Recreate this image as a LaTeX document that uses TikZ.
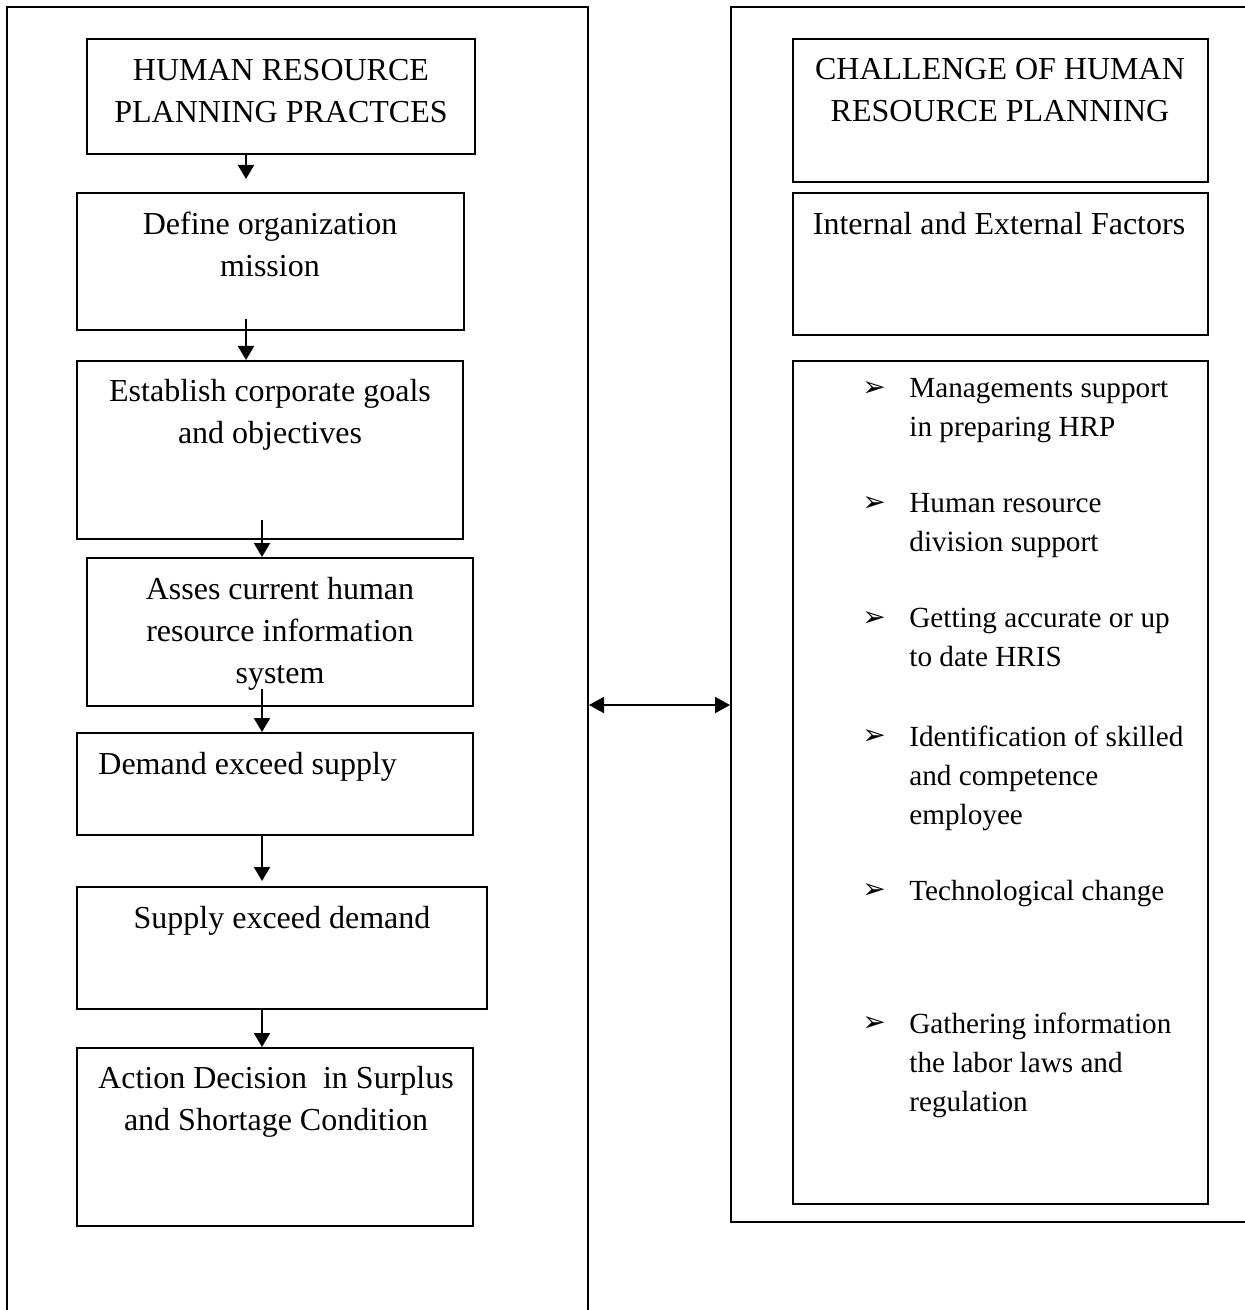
\documentclass[tikz,border=0pt]{standalone}
\usepackage{fontspec}
\setmainfont{Liberation Serif}
\newfontfamily\markfont{DejaVu Sans}
\usetikzlibrary{arrows.meta,fit,positioning}

\tikzset{
	frame/.style = {draw, line width = 1pt, inner sep = 0pt},
	box/.style = {draw, line width = 1pt, inner sep = 0pt},
	boxtext/.style = {anchor = north, inner sep = 0pt, align = center, font = \fontsize{16}{21}\selectfont},
	itemtext/.style = {anchor = north west, inner sep = 0pt, align = left, font = \fontsize{14.6}{19.3}\selectfont},
	itemmark/.style = {anchor = west, inner sep = 0pt, font = \markfont\fontsize{14}{14}\selectfont},
	flow/.style = {-{Triangle[length=7pt, width=8pt]}, line width = 1pt},
	link/.style = {{Triangle[length=7.5pt, width=8pt]}-{Triangle[length=7.5pt, width=8pt]}, line width = 1pt}
}

\begin{document}
\begin{tikzpicture}[x = 0.5pt, y = -0.5pt]
	\useasboundingbox (0,0) rectangle (1244,1310);
	
	% the two frames
	\node[frame, fit = {(7,7) (588,1340)}] (left) {};
	\node[frame, fit = {(731,7) (1270,1222)}] (right) {};
	
	% left column
	\node[box, fit = {(87,39) (475,154)}] (b1) {};
	\node[box, fit = {(77,193) (464,330)}] (b2) {};
	\node[box, fit = {(77,361) (463,539)}] (b3) {};
	\node[box, fit = {(87,558) (473,706)}] (b4) {};
	\node[box, fit = {(77,733) (473,835)}] (b5) {};
	\node[box, fit = {(77,887) (487,1009)}] (b6) {};
	\node[box, fit = {(77,1048) (473,1226)}] (b7) {};
	
	\node at (281,59) [boxtext] (t1) {HUMAN RESOURCE\\PLANNING PRACTCES};
	\node at (270,212) [boxtext] (t2) {Define organization\\mission};
	\node at (270,379) [boxtext] (t3) {Establish corporate goals\\and objectives};
	\node at (280,577) [boxtext] (t4) {Asses current human\\resource information\\system};
	\node at (98,752) [boxtext, anchor = north west] (t5) {Demand exceed supply};
	\node at (282,906) [boxtext] (t6) {Supply exceed demand};
	\node at (276,1066) [boxtext] (t7) {Action Decision \ in Surplus\\and Shortage Condition};
	
	\coordinate (ax1) at (246,0);
	\coordinate (ax2) at (262,0);
	\draw[flow] (b1.south -| ax1) -- ([yshift=6.5pt]b2.north -| ax1);
	\draw[flow] ([yshift=6pt]b2.south -| ax1) -- (b3.north -| ax1);
	\draw[flow] ([yshift=10pt]b3.south -| ax2) -- (b4.north -| ax2);
	\draw[flow] ([yshift=9pt]b4.south -| ax2) -- (b5.north -| ax2);
	\draw[flow] (b5.south -| ax2) -- ([yshift=2.5pt]b6.north -| ax2);
	\draw[flow] (b6.south -| ax2) -- (b7.north -| ax2);
	
	% right column
	\node[box, fit = {(793,39) (1208,182)}] (r1) {};
	\node[box, fit = {(793,193) (1208,335)}] (r2) {};
	\node[box, fit = {(793,361) (1208,1204)}] (r3) {};
	
	\node at (1000,58) [boxtext] (s1) {CHALLENGE OF HUMAN\\RESOURCE PLANNING};
	\node at (999,212) [boxtext] (s2) {Internal and External Factors};
	
	\foreach \y/\txt [count=\i] in {
		398/{Managements support\\in preparing HRP},
		513/{Human resource\\division support},
		628/{Getting accurate or up\\to date HRIS},
		746/{Identification of skilled\\and competence\\employee},
		900/{Technological change},
		1033/{Gathering information\\the labor laws and\\regulation}}
	{
		\node at (862,\y-9) [itemmark] (m\i) {\char"27A2};
		\node at (909,\y-20) [itemtext] (p\i) {\txt};
	}
	
	% link between the frames
	\coordinate (mid) at (660,705);
	\draw[link] (left.east |- mid) -- (right.west |- mid);
	
\end{tikzpicture}
\end{document}
